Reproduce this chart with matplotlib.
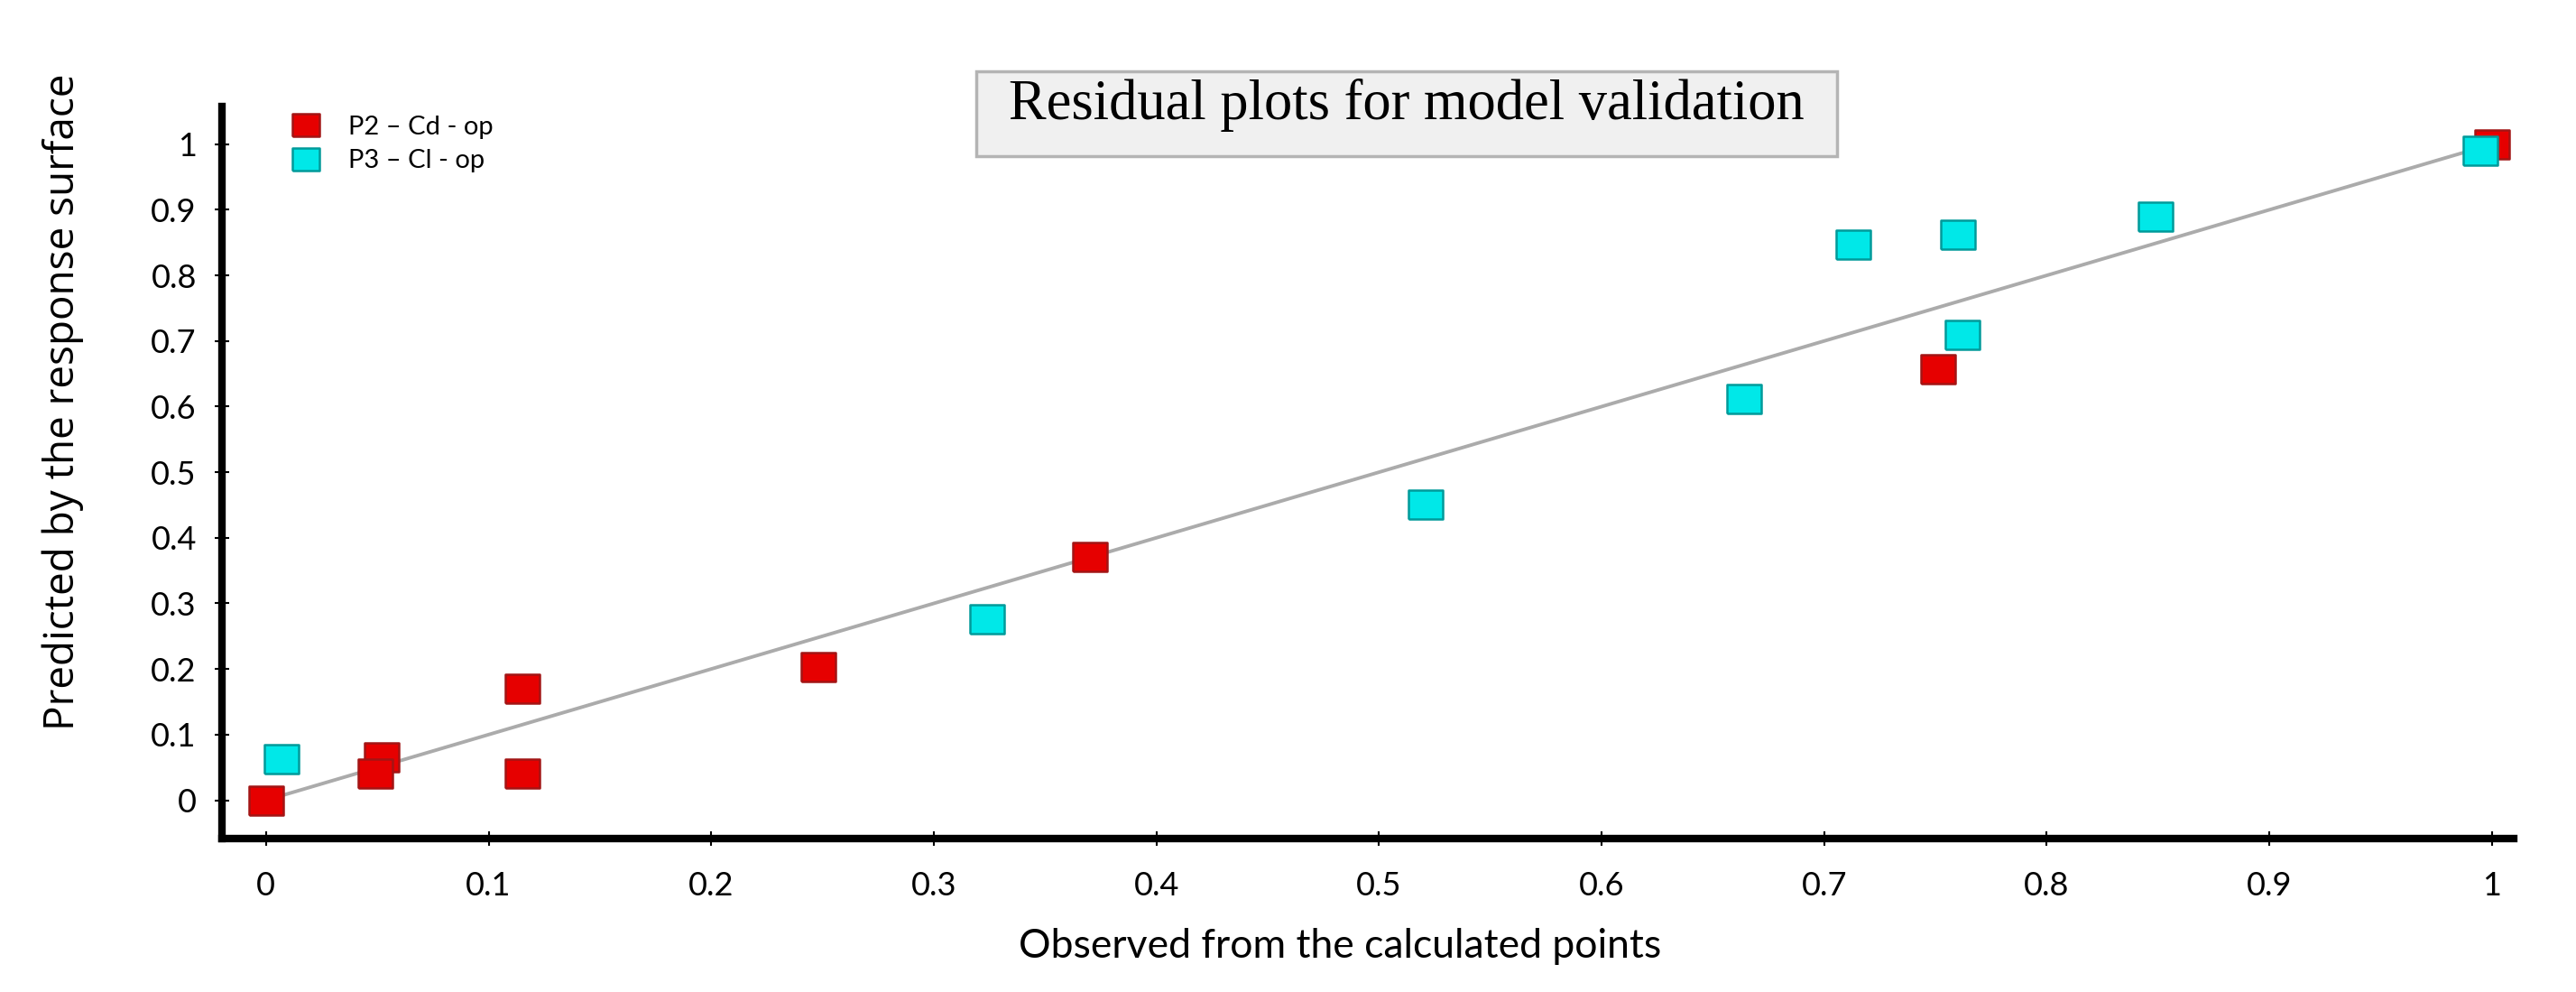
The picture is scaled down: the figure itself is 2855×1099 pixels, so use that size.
import matplotlib
matplotlib.use('Agg')
import matplotlib.pyplot as plt
from matplotlib.patches import Rectangle
from matplotlib.ticker import FormatStrFormatter

# data
p2_obs = [0.0, 0.052, 0.049, 0.115, 0.115, 0.248, 0.37, 0.751, 1.0]
p2_pred = [0.0, 0.065, 0.04, 0.17, 0.04, 0.203, 0.371, 0.657, 1.0]
p3_obs = [0.007, 0.324, 0.521, 0.664, 0.713, 0.76, 0.762, 0.849, 0.995]
p3_pred = [0.063, 0.276, 0.451, 0.611, 0.847, 0.862, 0.709, 0.89, 0.99]
fit_x = [0.005, 1.0]
fit_y = [0.005, 1.0]
ticks = [0, 0.1, 0.2, 0.3, 0.4, 0.5, 0.6, 0.7, 0.8, 0.9, 1]
labels = ['P2 \u2013 Cd - op', 'P3 \u2013 Cl - op']

plt.rcParams['font.family'] = ['Lato', 'DejaVu Sans']

fig = plt.figure(figsize=(28.55, 10.99), dpi=100)
ax = fig.add_axes([0.086, 0.155, 0.890, 0.738])

box = [(-1.2, -1), (1.2, -1), (1.2, 1), (-1.2, 1), (-1.2, -1)]
ax.plot(fit_x, fit_y, color='#ababab', lw=2.8, zorder=1)
ax.plot(p2_obs, p2_pred, ls='none', marker=box, ms=27, mfc='#e60000',
        mec='#a31515', mew=1.8, label=labels[0], zorder=3)
ax.plot(p3_obs, p3_pred, ls='none', marker=box, ms=27, mfc='#00e8e8',
        mec='#009a9a', mew=1.8, label=labels[1], zorder=4)

ax.set_xlim(-0.02, 1.01)
ax.set_ylim(-0.058, 1.058)
ax.set_xticks(ticks)
ax.set_yticks(ticks)
ax.xaxis.set_major_formatter(FormatStrFormatter('%g'))
ax.yaxis.set_major_formatter(FormatStrFormatter('%g'))

for s in ['top', 'right']:
    ax.spines[s].set_visible(False)
for s in ['left', 'bottom']:
    ax.spines[s].set_linewidth(6)
    ax.spines[s].set_color('black')
ax.tick_params(axis='both', direction='inout', length=12, width=1.5,
               color='black', labelsize=26)
ax.tick_params(axis='x', pad=20)
ax.tick_params(axis='y', pad=14)

ax.set_xlabel('Observed from the calculated points', fontsize=32)
ax.set_ylabel('Predicted by the response surface', fontsize=33,
              family=['Open Sans', 'DejaVu Sans'])
ax.xaxis.set_label_coords(0.488, -0.122)
ax.yaxis.set_label_coords(-0.069, 0.596)
ax.yaxis.label.set_va('center')

leg = ax.legend(loc='upper left', bbox_to_anchor=(0.015, 1.02), frameon=False,
                fontsize=21, handletextpad=0.6, labelspacing=0.4,
                markerscale=0.8)

fig.patches.append(Rectangle((0.379, 0.843), 0.334, 0.085, transform=fig.transFigure,
                             facecolor='#f0f0f0', edgecolor='#b4b4b4', lw=2.5))
fig.text(0.546, 0.894, 'Residual plots for model validation', ha='center', va='center',
         fontsize=45, family=['Liberation Serif', 'DejaVu Serif'])

fig.savefig('out.png', dpi=100)
